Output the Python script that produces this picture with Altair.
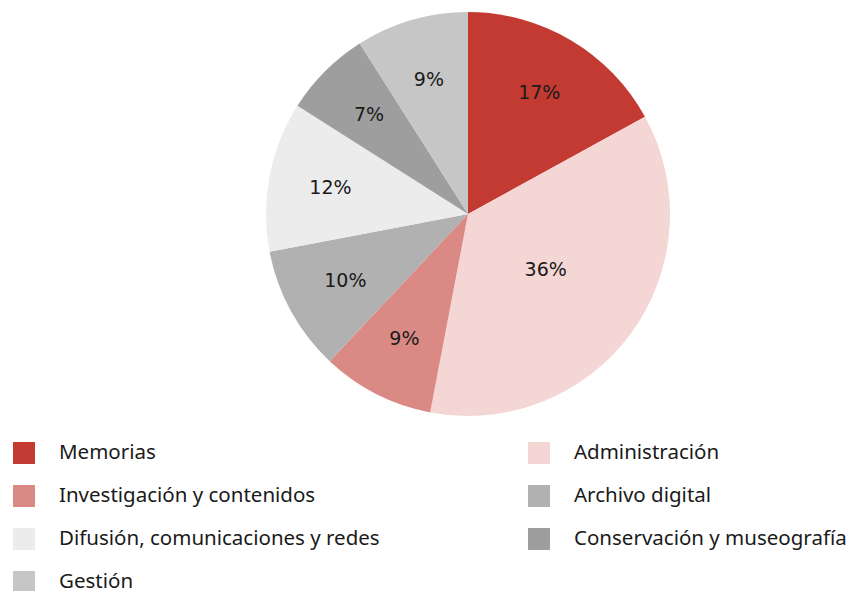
import altair as alt
import pandas as pd

categories = ["Memorias", "Administración", "Investigación y contenidos", "Archivo digital",
              "Difusión, comunicaciones y redes", "Conservación y museografía", "Gestión"]
shares = [17, 36, 9, 10, 12, 7, 9]
colors = ["#c33a32", "#f4d6d4", "#db8985", "#b1b1b1", "#ececec", "#9e9e9e", "#c6c6c6"]

# legend is laid out column by column: reorder so rows read like the reference
legend_order = [categories[i] for i in (0, 2, 4, 6, 1, 3, 5)]
legend_colors = [colors[i] for i in (0, 2, 4, 6, 1, 3, 5)]

df = pd.DataFrame({"cat": categories, "pct": shares, "idx": list(range(len(categories)))})

cx, cy, R = 460, 206, 202

arcs = alt.Chart(df).mark_arc(outerRadius=R, stroke=None).encode(
    theta=alt.Theta("pct:Q", stack=True),
    order=alt.Order("idx:Q"),
    x=alt.value(cx), y=alt.value(cy),
    color=alt.Color(
        "cat:N",
        scale=alt.Scale(domain=legend_order, range=legend_colors),
        sort=legend_order,
        legend=alt.Legend(
            title=None, orient="none", legendX=5, legendY=434, columns=2,
            symbolType="square", symbolSize=484, symbolStrokeWidth=0,
            labelFont="Noto Sans", labelFontSize=20.5, labelColor="#1a1a1a",
            labelOffset=24, labelLimit=400, rowPadding=21, columnPadding=148,
            symbolOffset=0,
        ),
    ),
)

labels = alt.Chart(df).transform_window(
    cum="sum(pct)", sort=[alt.SortField("idx")], frame=[None, 0]
).transform_joinaggregate(
    total="sum(pct)"
).transform_calculate(
    mid="(datum.cum - datum.pct / 2) / datum.total * 2 * PI",
    lr="datum.pct > 30 ? 96 : 140",
    lbl="datum.pct + '%'",
).mark_text(font="DejaVu Sans", fontSize=19, color="#1a1a1a").encode(
    x=alt.value(cx), y=alt.value(cy),
    theta=alt.Theta("mid:Q", scale=None, stack=False),
    radius=alt.Radius("lr:Q", scale=None),
    text="lbl:N",
)

chart = (arcs + labels).properties(
    width=839, height=583, padding=0,
    autosize=alt.AutoSizeParams(type="none"),
).configure_view(stroke=None)

chart.save("out.html", embed_options={"renderer": "svg", "actions": False})
